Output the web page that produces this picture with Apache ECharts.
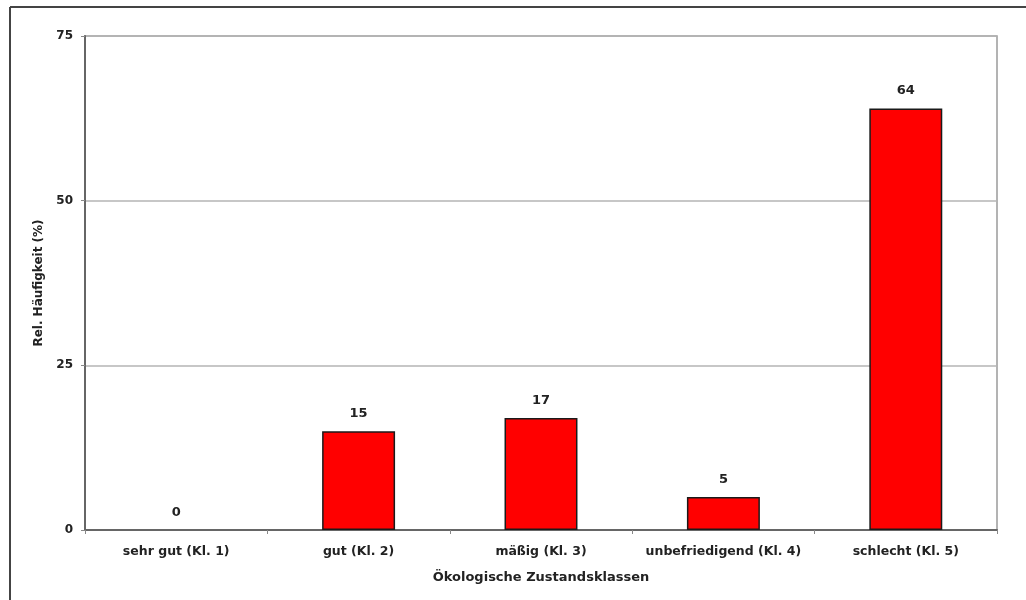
<!DOCTYPE html>
<html>
<head>
<meta charset="utf-8">
<script src="https://cdn.jsdelivr.net/npm/echarts@6/dist/echarts.min.js"></script>
<style>
  html, body { margin: 0; padding: 0; background: #fff; }
  #chart { width: 1026px; height: 600px; }
</style>
</head>
<body>
<div id="chart"></div>
<script>
// Ökologische Zustandsklassen – relative Häufigkeit in Prozent
const categories = ['sehr gut (Kl. 1)', 'gut (Kl. 2)', 'mäßig (Kl. 3)', 'unbefriedigend (Kl. 4)', 'schlecht (Kl. 5)'];
const values = [0, 15, 17, 5, 64];
const yTicks = [0, 25, 50, 75];

const font = '"DejaVu Sans", Verdana, sans-serif';
const textStyle = { fontFamily: font, fontSize: 12, fontWeight: 'bold', color: '#222' };

// empty classes get no outline, so nothing is drawn for them
const barData = values.map(v => v === 0
  ? { value: v, itemStyle: { borderWidth: 0 } }
  : { value: v });

const chart = echarts.init(document.getElementById('chart'));
chart.setOption({
  animation: false,
  backgroundColor: '#fff',
  grid: {
    left: 85, right: 29, top: 36, bottom: 70,
    show: true, borderColor: '#9a9a9a', borderWidth: 1.5, backgroundColor: 'transparent'
  },
  graphic: [
    { type: 'line', shape: { x1: 10, y1: 7, x2: 1026, y2: 7 }, style: { stroke: '#444', lineWidth: 2 } },
    { type: 'line', shape: { x1: 10, y1: 7, x2: 10, y2: 600 }, style: { stroke: '#444', lineWidth: 2 } }
  ],
  xAxis: {
    type: 'category',
    data: categories,
    name: 'Ökologische Zustandsklassen',
    nameLocation: 'middle',
    nameGap: 41,
    nameTextStyle: Object.assign({}, textStyle, { fontSize: 13 }),
    axisLine: { lineStyle: { color: '#666', width: 2 } },
    axisTick: { show: true, interval: 0, length: 4, lineStyle: { color: '#888' } },
    axisLabel: Object.assign({ margin: 15, interval: 0 }, textStyle, { fontSize: 12.5 })
  },
  yAxis: {
    type: 'value',
    min: yTicks[0], max: yTicks[yTicks.length - 1], interval: 25,
    name: 'Rel. Häufigkeit (%)',
    nameLocation: 'middle',
    nameGap: 40,
    nameTextStyle: textStyle,
    axisLine: { show: true, lineStyle: { color: '#666', width: 2 } },
    axisTick: { show: true, length: 4, lineStyle: { color: '#888' } },
    axisLabel: Object.assign({ margin: 12 }, textStyle),
    splitLine: { show: true, lineStyle: { color: '#b5b5b5', width: 1.5 } }
  },
  series: [{
    type: 'bar',
    data: barData,
    barWidth: '40%',
    itemStyle: { color: '#ff0000', borderColor: '#1a1a1a', borderWidth: 1.5 },
    label: Object.assign({ show: true, position: 'top', distance: 11 }, textStyle, { fontSize: 13 })
  }]
});
</script>
</body>
</html>
